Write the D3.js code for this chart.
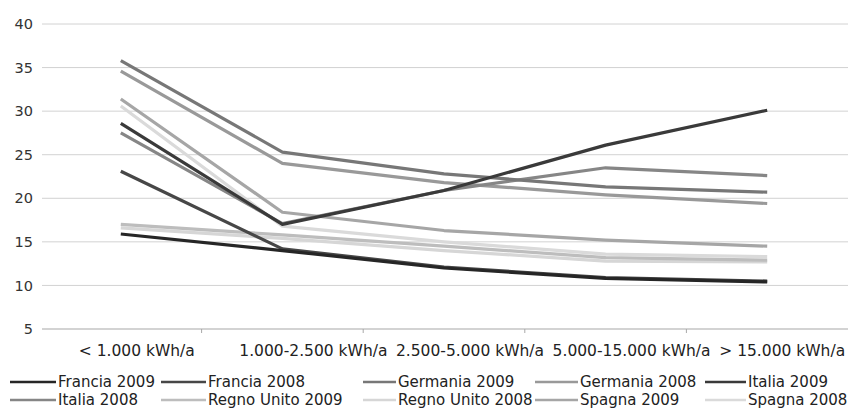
<!DOCTYPE html>
<html>
<head>
<meta charset="utf-8">
<script src="https://cdn.jsdelivr.net/npm/d3@7/dist/d3.min.js"></script>
<style>
  html, body { margin: 0; padding: 0; background: #fff; }
  svg { display: block; font-family: "DejaVu Sans", sans-serif; }
</style>
</head>
<body>
<svg id="chart" width="848" height="408"></svg>
<script>
// Consumption bands (x categories)
const categories = ["< 1.000 kWh/a", "1.000-2.500 kWh/a", "2.500-5.000 kWh/a", "5.000-15.000 kWh/a", "> 15.000 kWh/a"];

// Y axis ticks
const yTicks = [5, 10, 15, 20, 25, 30, 35, 40];

// Series names, in legend order
const seriesNames = ["Francia 2009", "Francia 2008", "Germania 2009", "Germania 2008", "Italia 2009",
                     "Italia 2008", "Regno Unito 2009", "Regno Unito 2008", "Spagna 2009", "Spagna 2008"];

// Values per band, one array per series
const francia2009    = [15.9, 14.0, 12.0, 10.8, 10.4];
const francia2008    = [23.1, 14.2, 12.1, 10.9, 10.5];
const germania2009   = [35.8, 25.3, 22.8, 21.3, 20.7];
const germania2008   = [34.6, 24.0, 21.8, 20.4, 19.4];
const italia2009     = [28.6, 17.0, 20.9, 26.1, 30.1];
const italia2008     = [27.5, 17.1, 20.9, 23.5, 22.6];
const regnoUnito2009 = [17.0, 15.8, 14.5, 13.2, 12.9];
const regnoUnito2008 = [16.6, 15.4, 14.0, 12.8, 12.7];
const spagna2009     = [31.4, 18.4, 16.3, 15.2, 14.5];
const spagna2008     = [30.6, 16.8, 15.0, 13.6, 13.3];

const seriesValues = [francia2009, francia2008, germania2009, germania2008, italia2009,
                      italia2008, regnoUnito2009, regnoUnito2008, spagna2009, spagna2008];

const colors = ["#262626", "#474747", "#777777", "#999999", "#3a3a3a",
                "#868686", "#bdbdbd", "#d6d6d6", "#a6a6a6", "#dadada"];

const svg = d3.select("#chart");
const plot = { left: 40, right: 848, top: 24, bottom: 329 };

const x = d3.scaleBand().domain(categories).range([plot.left, plot.right]);
const y = d3.scaleLinear().domain([5, 40]).range([plot.bottom, plot.top]);

// Horizontal gridlines
svg.append("g")
  .selectAll("line")
  .data(yTicks.filter(d => d > 5))
  .join("line")
  .attr("x1", plot.left + 2).attr("x2", plot.right)
  .attr("y1", d => y(d)).attr("y2", d => y(d))
  .attr("stroke", "#d2d2d2").attr("stroke-width", 1);

// Y axis labels
const yAxis = d3.axisLeft(y).tickValues(yTicks).tickSize(0).tickPadding(7).tickFormat(d3.format("d"));
svg.append("g")
  .attr("transform", `translate(${plot.left},0)`)
  .call(yAxis)
  .call(g => g.select(".domain").remove())
  .call(g => g.selectAll("text").attr("fill", "#333").style("font-size", "14.5px")
    .style("font-family", "\"DejaVu Sans\", sans-serif"));

// X axis baseline with band ticks
svg.append("line")
  .attr("x1", plot.left + 2).attr("x2", plot.right)
  .attr("y1", y(5)).attr("y2", y(5))
  .attr("stroke", "#a8a8a8").attr("stroke-width", 1.2);

svg.append("g")
  .selectAll("line")
  .data(categories.slice(1))
  .join("line")
  .attr("x1", d => x(d)).attr("x2", d => x(d))
  .attr("y1", y(5)).attr("y2", y(5) + 4)
  .attr("stroke", "#a8a8a8");

// Category labels, nudged right of their band centres
const labelShift = [16, 31, 26, 26, 15];
svg.append("g")
  .selectAll("text")
  .data(categories)
  .join("text")
  .attr("x", (d, i) => x(d) + x.bandwidth() / 2 + labelShift[i])
  .attr("y", 356)
  .attr("text-anchor", "middle")
  .attr("fill", "#222")
  .style("font-size", "15.5px")
  .text(d => d);

// Series lines
const line = d3.line()
  .x((d, i) => x(categories[i]) + x.bandwidth() / 2)
  .y(d => y(d));

const drawOrder = [7, 9, 6, 8, 3, 5, 2, 1, 4, 0];
svg.append("g")
  .selectAll("path")
  .data(drawOrder)
  .join("path")
  .attr("d", i => line(seriesValues[i]))
  .attr("fill", "none")
  .attr("stroke", i => colors[i])
  .attr("stroke-width", 3.2)
  .attr("stroke-linejoin", "round");

// Legend: two rows of five entries
const legendTextX = [57, 207, 397, 579, 747];
const legendLineLen = [47, 46, 34, 44, 42];
const legendRowY = [382, 400];
const legend = svg.append("g")
  .selectAll("g")
  .data(seriesNames)
  .join("g")
  .attr("transform", (d, i) => `translate(${legendTextX[i % 5]},${legendRowY[Math.floor(i / 5)]})`);

legend.append("line")
  .attr("x1", (d, i) => -legendLineLen[i % 5])
  .attr("x2", -1)
  .attr("y1", 0).attr("y2", 0)
  .attr("stroke", (d, i) => colors[i])
  .attr("stroke-width", 2.5);

legend.append("text")
  .attr("x", 1)
  .attr("y", 5)
  .attr("fill", "#222")
  .style("font-size", "15px")
  .text(d => d);
</script>
</body>
</html>
